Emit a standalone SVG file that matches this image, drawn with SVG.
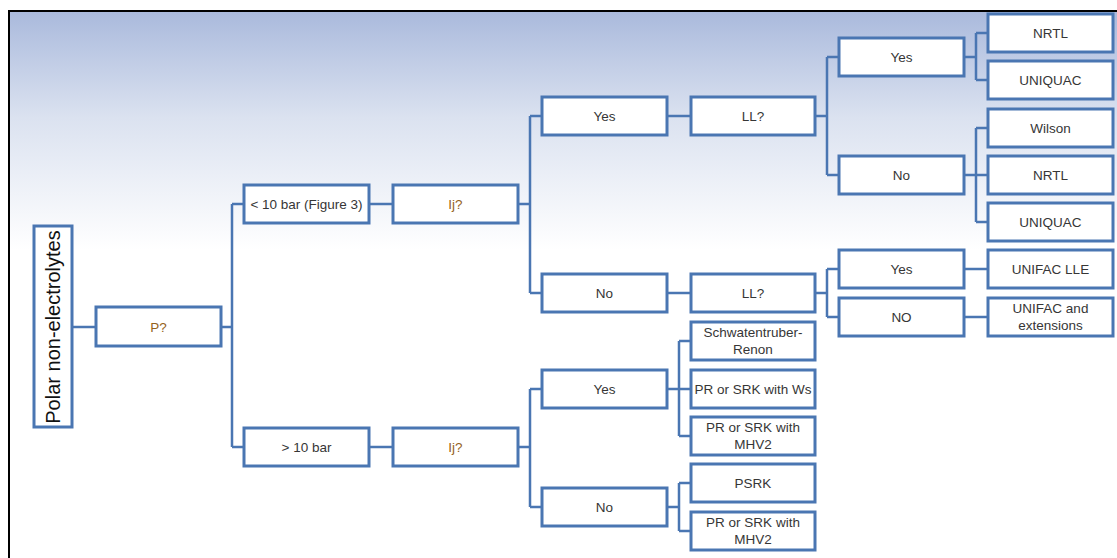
<svg xmlns="http://www.w3.org/2000/svg" width="1117" height="558" viewBox="0 0 1117 558">
<defs>
<linearGradient id="bg" x1="0" y1="10" x2="0" y2="250" gradientUnits="userSpaceOnUse">
<stop offset="0" stop-color="#a9b9dc"/>
<stop offset="0.45" stop-color="#dbe2f0"/>
<stop offset="1" stop-color="#ffffff"/>
</linearGradient>
<style>
.box{fill:#ffffff;stroke:#4a76b2;stroke-width:3}
.c{fill:none;stroke:#4a76b2;stroke-width:2.5}
.t{font-family:"Liberation Sans",Arial,sans-serif;font-size:13.5px;fill:#363636;text-anchor:middle}
.q{fill:#94621c}
</style>
</defs>
<rect x="0" y="0" width="1117" height="558" fill="#ffffff"/>
<rect x="9" y="11" width="1108" height="547" fill="url(#bg)"/>
<path d="M9 558 V11 H1117" fill="none" stroke="#000000" stroke-width="2"/>
<g id="connectors">
<path class="c" d="M72 327 H96"/>
<path class="c" d="M221 327 H232 M232 204 V447 M232 204 H244 M232 447 H244"/>
<path class="c" d="M369 204 H393"/>
<path class="c" d="M369 447 H393"/>
<path class="c" d="M518 204 H530 M530 116 V293 M530 116 H542 M530 293 H542"/>
<path class="c" d="M667 116 H691"/>
<path class="c" d="M815 116 H827 M827 57 V175 M827 57 H839 M827 175 H839"/>
<path class="c" d="M964 57 H976 M976 33 V80 M976 33 H988 M976 80 H988"/>
<path class="c" d="M964 175 H988 M976 128 V222 M976 128 H988 M976 222 H988"/>
<path class="c" d="M667 293 H691"/>
<path class="c" d="M815 293 H827 M827 269 V317 M827 269 H839 M827 317 H839"/>
<path class="c" d="M964 269 H988"/>
<path class="c" d="M964 317 H988"/>
<path class="c" d="M518 447 H530 M530 389 V507 M530 389 H542 M530 507 H542"/>
<path class="c" d="M667 389 H691 M679 341 V436 M679 341 H691 M679 436 H691"/>
<path class="c" d="M667 507 H679 M679 483 V531 M679 483 H691 M679 531 H691"/>
</g>
<g id="polar"><rect class="box" x="34" y="226" width="38" height="201"/><text transform="translate(60 327) rotate(-90)" text-anchor="middle" font-family="Liberation Sans,Arial,sans-serif" font-size="20" fill="#111111">Polar non-electrolytes</text></g>
<g id="p"><rect class="box" x="96" y="307" width="125" height="39"/><text class="t q" x="158.5" y="331.5">P?</text></g>
<g id="lt10"><rect class="box" x="244" y="185" width="125" height="38"/><text class="t" x="306.5" y="209">&lt; 10 bar (Figure 3)</text></g>
<g id="ij1"><rect class="box" x="393" y="185" width="125" height="38"/><text class="t q" x="455.5" y="209">Ij?</text></g>
<g id="gt10"><rect class="box" x="244" y="428" width="125" height="38"/><text class="t" x="306.5" y="452">&gt; 10 bar</text></g>
<g id="ij2"><rect class="box" x="393" y="428" width="125" height="38"/><text class="t q" x="455.5" y="452">Ij?</text></g>
<g id="yes1"><rect class="box" x="542" y="97" width="125" height="38"/><text class="t" x="604.5" y="121">Yes</text></g>
<g id="ll1"><rect class="box" x="691" y="97" width="124" height="38"/><text class="t" x="753" y="121">LL?</text></g>
<g id="no1"><rect class="box" x="542" y="274" width="125" height="38"/><text class="t" x="604.5" y="298">No</text></g>
<g id="ll2"><rect class="box" x="691" y="274" width="124" height="38"/><text class="t" x="753" y="298">LL?</text></g>
<g id="yes2"><rect class="box" x="839" y="38" width="125" height="38"/><text class="t" x="901.5" y="62">Yes</text></g>
<g id="no2"><rect class="box" x="839" y="156" width="125" height="38"/><text class="t" x="901.5" y="180">No</text></g>
<g id="nrtl1"><rect class="box" x="988" y="14" width="125" height="38"/><text class="t" x="1050.5" y="38">NRTL</text></g>
<g id="uniquac1"><rect class="box" x="988" y="61" width="125" height="38"/><text class="t" x="1050.5" y="85">UNIQUAC</text></g>
<g id="wilson"><rect class="box" x="988" y="109" width="125" height="38"/><text class="t" x="1050.5" y="133">Wilson</text></g>
<g id="nrtl2"><rect class="box" x="988" y="156" width="125" height="38"/><text class="t" x="1050.5" y="180">NRTL</text></g>
<g id="uniquac2"><rect class="box" x="988" y="203" width="125" height="38"/><text class="t" x="1050.5" y="227">UNIQUAC</text></g>
<g id="yes3"><rect class="box" x="839" y="250" width="125" height="38"/><text class="t" x="901.5" y="274">Yes</text></g>
<g id="no3"><rect class="box" x="839" y="298" width="125" height="38"/><text class="t" x="901.5" y="322">NO</text></g>
<g id="unifaclle"><rect class="box" x="988" y="250" width="125" height="38"/><text class="t" x="1050.5" y="274">UNIFAC LLE</text></g>
<g id="unifacext"><rect class="box" x="988" y="298" width="125" height="38"/><text class="t" x="1050.5" y="313">UNIFAC and</text><text class="t" x="1050.5" y="330">extensions</text></g>
<g id="yes4"><rect class="box" x="542" y="370" width="125" height="38"/><text class="t" x="604.5" y="394">Yes</text></g>
<g id="no4"><rect class="box" x="542" y="488" width="125" height="38"/><text class="t" x="604.5" y="512">No</text></g>
<g id="schw"><rect class="box" x="691" y="322" width="124" height="38"/><text class="t" x="753" y="337">Schwatentruber-</text><text class="t" x="753" y="354">Renon</text></g>
<g id="prws"><rect class="box" x="691" y="370" width="124" height="38"/><text class="t" x="753" y="394">PR or SRK with Ws</text></g>
<g id="prmhv1"><rect class="box" x="691" y="417" width="124" height="38"/><text class="t" x="753" y="432">PR or SRK with</text><text class="t" x="753" y="449">MHV2</text></g>
<g id="psrk"><rect class="box" x="691" y="464" width="124" height="38"/><text class="t" x="753" y="488">PSRK</text></g>
<g id="prmhv2"><rect class="box" x="691" y="512" width="124" height="38"/><text class="t" x="753" y="527">PR or SRK with</text><text class="t" x="753" y="544">MHV2</text></g>
</svg>
